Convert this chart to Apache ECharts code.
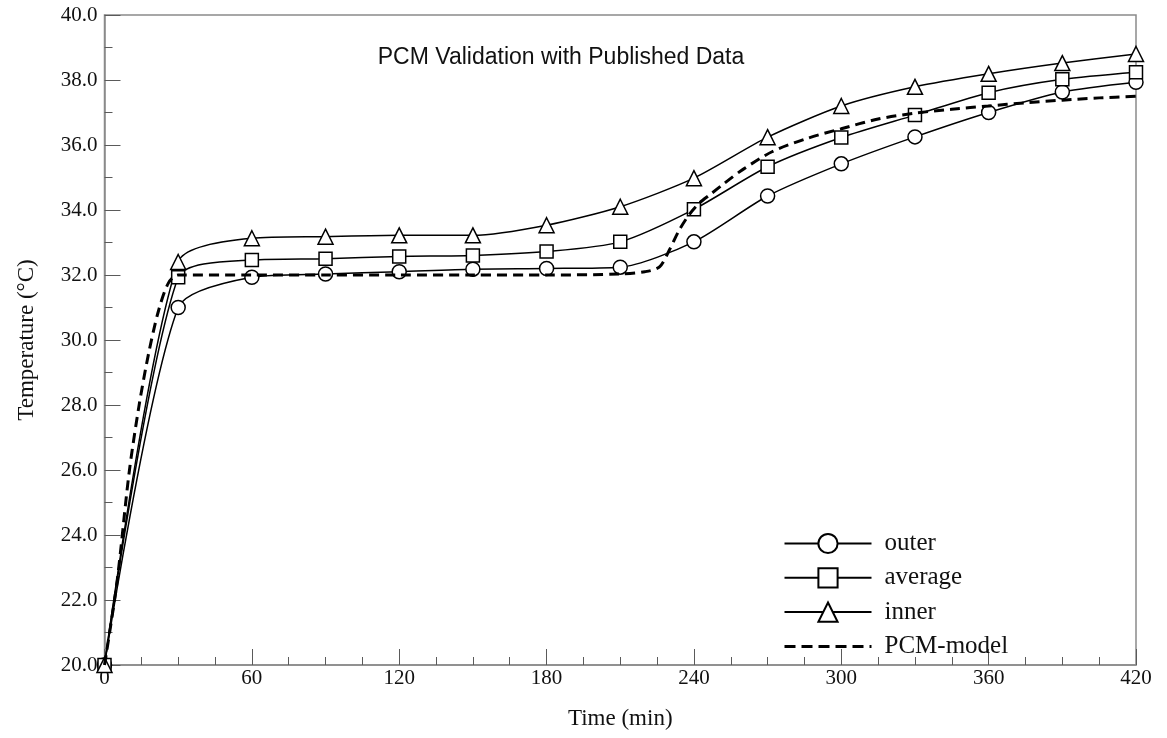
<!DOCTYPE html>
<html>
<head>
<meta charset="utf-8">
<script src="https://cdn.jsdelivr.net/npm/echarts@6/dist/echarts.min.js"></script>
<style>
  html, body { margin: 0; padding: 0; background: #fff; }
  #chart { width: 1167px; height: 738px; }
</style>
</head>
<body>
<div id="chart"></div>
<script>
// ---- data ----
const timeMin = [0, 30, 60, 90, 120, 150, 180, 210, 240, 270, 300, 330, 360, 390, 420];
const outer   = [20.0, 31.0, 31.93, 32.03, 32.1, 32.18, 32.2, 32.24, 33.02, 34.43, 35.42, 36.25, 37.0, 37.63, 37.93];
const average = [20.0, 31.93, 32.46, 32.5, 32.57, 32.6, 32.72, 33.02, 34.02, 35.33, 36.23, 36.92, 37.61, 38.02, 38.24];
const inner   = [20.0, 32.4, 33.13, 33.18, 33.22, 33.22, 33.53, 34.1, 34.98, 36.24, 37.2, 37.79, 38.19, 38.52, 38.8];

const pcmTime  = [0, 5, 10, 14, 18, 22, 26, 30, 60, 90, 120, 150, 180, 210, 220, 226, 230, 234, 238, 242, 247, 252, 260, 272, 286, 300, 315, 330, 345, 360, 375, 390, 405, 420];
const pcmModel = [20, 22.5, 25.9, 27.95, 29.6, 30.9, 31.75, 32.0, 32.0, 32.0, 32.0, 32.0, 32.0, 32.03, 32.1, 32.25, 32.77, 33.38, 33.85, 34.2, 34.5, 34.8, 35.25, 35.8, 36.2, 36.5, 36.8, 36.98, 37.1, 37.2, 37.3, 37.38, 37.45, 37.5];

const seriesNames = ['outer', 'average', 'inner', 'PCM-model'];
const titleText = 'PCM Validation with Published Data';
const xName = 'Time (min)';
const yName = 'Temperature (°C)';

const pairs = (xs, ys) => xs.map((x, i) => [x, ys[i]]);

const serif = '"Liberation Serif", "Times New Roman", serif';
const axisGray = '#8a8a8a';
const tickGray = '#5a5a5a';

const markerSeries = (name, data, symbol, size) => ({
  name, type: 'line', data: pairs(timeMin, data),
  smooth: 0.25,
  symbol, symbolSize: size, showAllSymbol: true,
  lineStyle: { color: '#000', width: 1.5 },
  itemStyle: { color: '#fff', borderColor: '#000', borderWidth: 1.5 },
  emphasis: { disabled: true },
  z: 3
});

const chart = echarts.init(document.getElementById('chart'), null, { renderer: 'canvas' });
chart.setOption({
  animation: false,
  backgroundColor: '#fff',
  title: {
    text: titleText, left: 556, top: 41, textAlign: 'center',
    textStyle: { fontFamily: '"Liberation Sans", Arial, sans-serif', fontSize: 23, fontWeight: 'normal', color: '#111' }
  },
  grid: { left: 104.5, right: 31, top: 15, bottom: 73, show: true, borderColor: axisGray, borderWidth: 1.5, containLabel: false },
  legend: {
    orient: 'vertical', left: 783, top: 531, align: 'left', padding: 0,
    itemWidth: 87, itemHeight: 24, itemGap: 9.3,
    data: seriesNames.map((n, i) => i === 3
      ? { name: n, lineStyle: { width: 3, type: [11, 6], color: '#000' } }
      : { name: n }),
    textStyle: { fontFamily: serif, fontSize: 25, color: '#111', padding: [0, 0, 0, 8] }
  },
  xAxis: {
    type: 'value', min: 0, max: 420, interval: 60,
    name: xName, nameLocation: 'middle', nameGap: 42,
    nameTextStyle: { fontFamily: serif, fontSize: 23, color: '#111' },
    axisLine: { show: true, lineStyle: { color: axisGray, width: 1.5 } },
    axisTick: { show: true, inside: true, length: 16, lineStyle: { color: tickGray, width: 1 } },
    minorTick: { show: true, splitNumber: 4, length: 8, lineStyle: { color: tickGray, width: 1 } },
    axisLabel: { fontFamily: serif, fontSize: 21, color: '#111', margin: 3 },
    splitLine: { show: false }
  },
  yAxis: {
    type: 'value', min: 20, max: 40, interval: 2,
    name: yName, nameLocation: 'middle', nameGap: 66,
    nameTextStyle: { fontFamily: serif, fontSize: 23, color: '#111' },
    axisLine: { show: true, lineStyle: { color: axisGray, width: 1.5 } },
    axisTick: { show: true, inside: true, length: 16, lineStyle: { color: tickGray, width: 1 } },
    minorTick: { show: true, splitNumber: 2, length: 8, lineStyle: { color: tickGray, width: 1 } },
    axisLabel: { fontFamily: serif, fontSize: 21, color: '#111', margin: 7, formatter: v => v.toFixed(1) },
    splitLine: { show: false }
  },
  series: [
    markerSeries('outer', outer, 'circle', 14),
    markerSeries('average', average, 'rect', 13),
    markerSeries('inner', inner, 'triangle', 15),
    {
      name: 'PCM-model', type: 'line', data: pairs(pcmTime, pcmModel),
      smooth: 0.3, symbol: 'none', showSymbol: false,
      lineStyle: { color: '#000', width: 3, type: [10, 6] },
      itemStyle: { color: 'rgba(0,0,0,0)', borderColor: 'rgba(0,0,0,0)', borderWidth: 0 },
      emphasis: { disabled: true },
      z: 4
    }
  ]
});
</script>
</body>
</html>
